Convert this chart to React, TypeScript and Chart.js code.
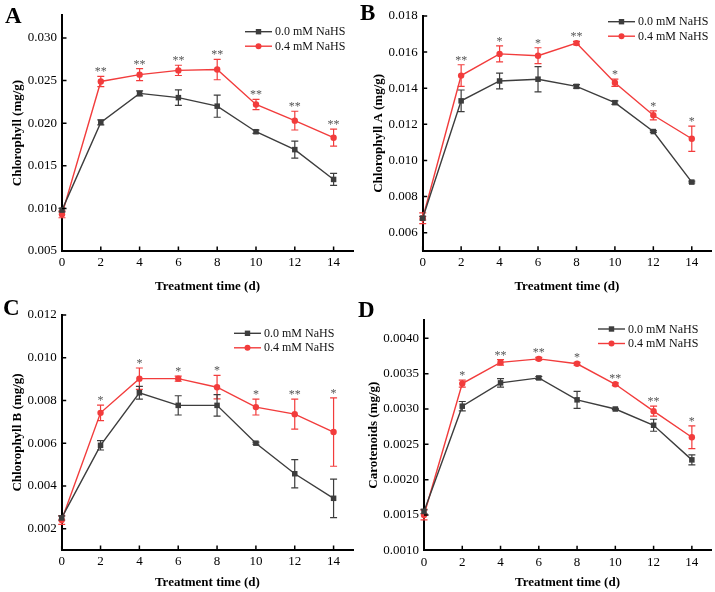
import React, { useEffect, useRef } from "react";
import { Chart, registerables } from "chart.js";

Chart.register(...registerables);

// ---------- data ----------
const DAYS = [0, 2, 4, 6, 8, 10, 12, 14];
const X_TICKS = [0, 2, 4, 6, 8, 10, 12, 14];
const SERIES_NAMES = ["0.0 mM NaHS", "0.4 mM NaHS"];
const X_TITLE = "Treatment time (d)";

// A: Chlorophyll
const A_CTRL = [0.0098, 0.0201, 0.0235, 0.0230, 0.0220, 0.0190, 0.0169, 0.0134];
const A_CTRL_ERR = [0.0002, 0.0003, 0.0003, 0.0009, 0.0013, 0.0002, 0.0010, 0.0007];
const A_NAHS = [0.0093, 0.0249, 0.0257, 0.0262, 0.0263, 0.0222, 0.0203, 0.0183];
const A_NAHS_ERR = [0.0004, 0.0006, 0.0007, 0.0006, 0.0012, 0.0006, 0.0011, 0.0010];
const A_SIG = ["", "**", "**", "**", "**", "**", "**", "**"];
const A_Y_TICKS = [0.005, 0.01, 0.015, 0.02, 0.025, 0.03];

// B: Chlorophyll A
const B_CTRL = [0.0068, 0.0133, 0.0144, 0.0145, 0.0141, 0.0132, 0.0116, 0.0088];
const B_CTRL_ERR = [0.0001, 0.0006, 0.00044, 0.0007, 0.0001, 0.0001, 0.00005, 0.00005];
const B_NAHS = [0.0068, 0.0147, 0.0159, 0.0158, 0.0165, 0.0143, 0.0125, 0.0112];
const B_NAHS_ERR = [0.0003, 0.0006, 0.00044, 0.00044, 0.0001, 0.0002, 0.00025, 0.0007];
const B_SIG = ["", "**", "*", "*", "**", "*", "*", "*"];
const B_Y_TICKS = [0.006, 0.008, 0.01, 0.012, 0.014, 0.016, 0.018];

// C: Chlorophyll B
const C_CTRL = [0.0025, 0.0059, 0.00836, 0.00777, 0.00777, 0.006, 0.00457, 0.00342];
const C_CTRL_ERR = [0.0001, 0.00022, 0.0003, 0.00045, 0.0005, 0.00005, 0.00066, 0.0009];
const C_NAHS = [0.0024, 0.00742, 0.00902, 0.00902, 0.00862, 0.00769, 0.00736, 0.00652];
const C_NAHS_ERR = [0.0002, 0.00036, 0.0005, 0.00012, 0.00055, 0.00037, 0.0007, 0.0016];
const C_SIG = ["", "*", "*", "*", "*", "*", "**", "*"];
const C_Y_TICKS = [0.002, 0.004, 0.006, 0.008, 0.01, 0.012];

// D: Carotenoids
const D_CTRL = [0.00155, 0.00304, 0.00337, 0.00344, 0.00313, 0.003, 0.00277, 0.00228];
const D_CTRL_ERR = [0.00003, 0.000066, 0.00006, 0.00002, 0.00012, 0.00001, 0.000085, 0.00007];
const D_NAHS = [0.0015, 0.00336, 0.00366, 0.00371, 0.00364, 0.00335, 0.00297, 0.0026];
const D_NAHS_ERR = [0.00007, 0.00005, 0.00004, 0.00002, 0.00002, 0.00002, 0.00007, 0.00016];
const D_SIG = ["", "*", "**", "**", "*", "**", "**", "*"];
const D_Y_TICKS = [0.001, 0.0015, 0.002, 0.0025, 0.003, 0.0035, 0.004];

// ---------- styles ----------
const GRAY = "#3d3d3d";
const RED = "#f23c3c";
const STAR = "#555555";
const FONT = "'Liberation Serif', 'Times New Roman', serif";

type Panel = {
  letter: string;
  yTitle: string;
  yMin: number;
  yMax: number;
  yTicks: number[];
  decimals: number;
  ctrl: number[];
  ctrlErr: number[];
  nahs: number[];
  nahsErr: number[];
  sig: string[];
  box: { left: number; top: number; width: number; height: number };
  padTop: number;
  padRight: number;
  yWidth: number;
  xHeight: number;
  yTitlePad: number;
  xTitlePad: number;
  legend: { x: number; y: number };
  letterPos: { x: number; y: number };
};

const PANELS: Panel[] = [
  {
    letter: "A", yTitle: "Chlorophyll (mg/g)", yMin: 0.005, yMax: 0.0327, yTicks: A_Y_TICKS, decimals: 3,
    ctrl: A_CTRL, ctrlErr: A_CTRL_ERR, nahs: A_NAHS, nahsErr: A_NAHS_ERR, sig: A_SIG,
    box: { left: 0, top: 0, width: 357, height: 295 },
    padTop: 15, padRight: 4, yWidth: 62, xHeight: 44, yTitlePad: 9.7, xTitlePad: 1,
    legend: { x: 245, y: 31.7 }, letterPos: { x: 5, y: 23 },
  },
  {
    letter: "B", yTitle: "Chlorophyll A (mg/g)", yMin: 0.005, yMax: 0.018, yTicks: B_Y_TICKS, decimals: 3,
    ctrl: B_CTRL, ctrlErr: B_CTRL_ERR, nahs: B_NAHS, nahsErr: B_NAHS_ERR, sig: B_SIG,
    box: { left: 357, top: 0, width: 358, height: 295 },
    padTop: 16, padRight: 1.7, yWidth: 65.7, xHeight: 44.3, yTitlePad: 13.5, xTitlePad: 1,
    legend: { x: 251, y: 21.7 }, letterPos: { x: 3, y: 20 },
  },
  {
    letter: "C", yTitle: "Chlorophyll B (mg/g)", yMin: 0.001, yMax: 0.012, yTicks: C_Y_TICKS, decimals: 3,
    ctrl: C_CTRL, ctrlErr: C_CTRL_ERR, nahs: C_NAHS, nahsErr: C_NAHS_ERR, sig: C_SIG,
    box: { left: 0, top: 295, width: 357, height: 297 },
    padTop: 20, padRight: 4, yWidth: 61.7, xHeight: 42, yTitlePad: 9.7, xTitlePad: 1.3,
    legend: { x: 234, y: 38.3 }, letterPos: { x: 3, y: 20 },
  },
  {
    letter: "D", yTitle: "Carotenoids (mg/g)", yMin: 0.001, yMax: 0.00426, yTicks: D_Y_TICKS, decimals: 4,
    ctrl: D_CTRL, ctrlErr: D_CTRL_ERR, nahs: D_NAHS, nahsErr: D_NAHS_ERR, sig: D_SIG,
    box: { left: 357, top: 295, width: 358, height: 297 },
    padTop: 25, padRight: 3, yWidth: 67, xHeight: 41.7, yTitlePad: 8.5, xTitlePad: 1.3,
    legend: { x: 241, y: 34 }, letterPos: { x: 1, y: 22 },
  },
];

function drawMarker(ctx: CanvasRenderingContext2D, style: string, x: number, y: number, color: string) {
  ctx.fillStyle = color;
  if (style === "rect") {
    ctx.fillRect(x - 2.7, y - 2.7, 5.4, 5.4);
  } else {
    ctx.beginPath();
    ctx.arc(x, y, 3, 0, Math.PI * 2);
    ctx.fill();
  }
}

function makePlugin(p: Panel) {
  return {
    id: "panelDecor" + p.letter,
    beforeDatasetsDraw(chart: any) {
      const ctx = chart.ctx as CanvasRenderingContext2D;
      const xs = chart.scales.x;
      const ys = chart.scales.y;
      const drawErr = (vals: number[], errs: number[], color: string) => {
        ctx.save();
        ctx.strokeStyle = color;
        ctx.lineWidth = 1.2;
        DAYS.forEach((d, i) => {
          const px = xs.getPixelForValue(d);
          const top = ys.getPixelForValue(vals[i] + errs[i]);
          const bot = ys.getPixelForValue(vals[i] - errs[i]);
          ctx.beginPath();
          ctx.moveTo(px, top);
          ctx.lineTo(px, bot);
          ctx.moveTo(px - 3.5, top);
          ctx.lineTo(px + 3.5, top);
          ctx.moveTo(px - 3.5, bot);
          ctx.lineTo(px + 3.5, bot);
          ctx.stroke();
        });
        ctx.restore();
      };
      drawErr(p.nahs, p.nahsErr, RED);
      drawErr(p.ctrl, p.ctrlErr, GRAY);
    },
    afterDraw(chart: any) {
      const ctx = chart.ctx as CanvasRenderingContext2D;
      const xs = chart.scales.x;
      const ys = chart.scales.y;
      const area = chart.chartArea;
      ctx.save();
      // inward tick marks
      ctx.strokeStyle = "#000";
      ctx.lineWidth = 1.5;
      ctx.beginPath();
      xs.ticks.forEach((t: any) => {
        const px = xs.getPixelForValue(t.value);
        ctx.moveTo(px, area.bottom);
        ctx.lineTo(px, area.bottom - 4.5);
      });
      ys.ticks.forEach((t: any) => {
        const py = ys.getPixelForValue(t.value);
        ctx.moveTo(area.left, py);
        ctx.lineTo(area.left + 4.5, py);
      });
      ctx.stroke();

      // significance stars
      ctx.fillStyle = STAR;
      ctx.font = `12px ${FONT}`;
      ctx.textAlign = "center";
      ctx.textBaseline = "alphabetic";
      DAYS.forEach((d, i) => {
        if (!p.sig[i]) return;
        const top = Math.min(
          ys.getPixelForValue(p.nahs[i] + p.nahsErr[i]),
          ys.getPixelForValue(p.ctrl[i] + p.ctrlErr[i])
        );
        ctx.fillText(p.sig[i], xs.getPixelForValue(d), top - 1);
      });

      // legend
      const rows = [
        { name: SERIES_NAMES[0], color: GRAY, style: "rect" },
        { name: SERIES_NAMES[1], color: RED, style: "circle" },
      ];
      ctx.font = `12px ${FONT}`;
      ctx.textAlign = "left";
      ctx.textBaseline = "middle";
      rows.forEach((r, k) => {
        const y = p.legend.y + k * 14.5;
        ctx.strokeStyle = r.color;
        ctx.lineWidth = 1.4;
        ctx.beginPath();
        ctx.moveTo(p.legend.x, y);
        ctx.lineTo(p.legend.x + 27, y);
        ctx.stroke();
        drawMarker(ctx, r.style, p.legend.x + 13.5, y, r.color);
        ctx.fillStyle = "#111";
        ctx.fillText(r.name, p.legend.x + 30, y + 0.5);
      });

      // panel letter
      ctx.fillStyle = "#000";
      ctx.font = `bold 23px ${FONT}`;
      ctx.textAlign = "left";
      ctx.textBaseline = "alphabetic";
      ctx.fillText(p.letter, p.letterPos.x, p.letterPos.y);
      ctx.restore();
    },
  };
}

function PanelChart({ p }: { p: Panel }) {
  const ref = useRef<HTMLCanvasElement | null>(null);
  useEffect(() => {
    if (!ref.current) return;
    const chart = new Chart(ref.current, {
      type: "line",
      data: {
        datasets: [
          {
            label: SERIES_NAMES[0],
            data: DAYS.map((d, i) => ({ x: d, y: p.ctrl[i] })),
            borderColor: GRAY,
            backgroundColor: GRAY,
            pointBackgroundColor: GRAY,
            pointBorderColor: GRAY,
            pointStyle: "rect",
            pointRadius: 3.9,
            pointBorderWidth: 0,
            borderWidth: 1.4,
            tension: 0,
            clip: false as any,
          },
          {
            label: SERIES_NAMES[1],
            data: DAYS.map((d, i) => ({ x: d, y: p.nahs[i] })),
            borderColor: RED,
            backgroundColor: RED,
            pointBackgroundColor: RED,
            pointBorderColor: RED,
            pointStyle: "circle",
            pointRadius: 3.2,
            pointBorderWidth: 0,
            borderWidth: 1.4,
            tension: 0,
            clip: false as any,
          },
        ],
      },
      options: {
        animation: false,
        responsive: false,
        devicePixelRatio: 1,
        layout: { padding: { left: 0, top: p.padTop, right: p.padRight, bottom: 0 } },
        plugins: { legend: { display: false }, tooltip: { enabled: false } },
        scales: {
          x: {
            type: "linear",
            min: 0,
            max: 15,
            afterBuildTicks: (axis: any) => {
              axis.ticks = X_TICKS.map((v) => ({ value: v }));
            },
            afterFit: (s: any) => {
              s.height = p.xHeight;
            },
            grid: { display: false, drawTicks: false },
            border: { display: true, color: "#000", width: 2 },
            ticks: {
              color: "#000",
              font: { family: FONT, size: 13 },
              padding: 4,
              maxRotation: 0,
              autoSkip: false,
              callback: (v: any) => String(v),
            },
            title: {
              display: true,
              text: X_TITLE,
              color: "#000",
              font: { family: FONT, size: 13, weight: "bold" },
              padding: { top: 0, bottom: p.xTitlePad },
            },
          },
          y: {
            type: "linear",
            min: p.yMin,
            max: p.yMax,
            afterBuildTicks: (axis: any) => {
              axis.ticks = p.yTicks.map((v) => ({ value: v }));
            },
            afterFit: (s: any) => {
              s.width = p.yWidth;
            },
            grid: { display: false, drawTicks: false },
            border: { display: true, color: "#000", width: 2 },
            ticks: {
              color: "#000",
              font: { family: FONT, size: 13 },
              padding: 5,
              autoSkip: false,
              callback: (v: any) => Number(v).toFixed(p.decimals),
            },
            title: {
              display: true,
              text: p.yTitle,
              color: "#000",
              font: { family: FONT, size: 13, weight: "bold" },
              padding: { top: p.yTitlePad, bottom: 0 },
            },
          },
        },
      } as any,
      plugins: [makePlugin(p)],
    });
    return () => chart.destroy();
  }, [p]);

  return (
    <div
      style={{
        position: "absolute",
        left: p.box.left,
        top: p.box.top,
        width: p.box.width,
        height: p.box.height,
      }}
    >
      <canvas ref={ref} width={p.box.width} height={p.box.height} style={{ display: "block" }} />
    </div>
  );
}

export default function App() {
  return (
    <div
      style={{
        position: "absolute",
        left: 0,
        top: 0,
        width: 715,
        height: 592,
        background: "#fff",
      }}
    >
      {PANELS.map((p) => (
        <PanelChart key={p.letter} p={p} />
      ))}
    </div>
  );
}
